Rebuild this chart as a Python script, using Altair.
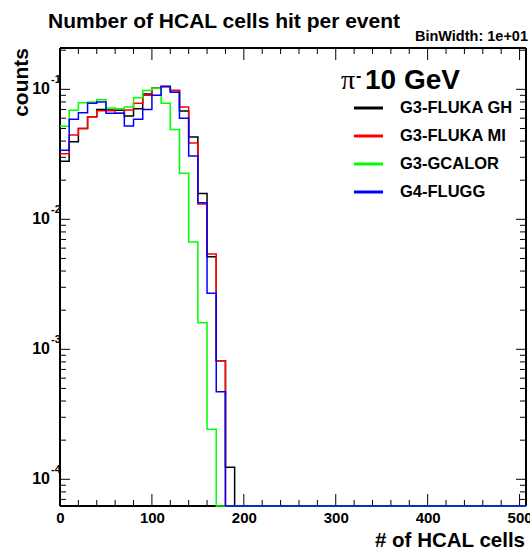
import altair as alt
import pandas as pd

# ---------------- data ----------------
BIN_WIDTH = 10
X_MAX = 507
Y_MIN = 6.23e-5
Y_MAX = 0.208

SERIES = ["G3-FLUKA GH", "G3-FLUKA MI", "G3-GCALOR", "G4-FLUGG"]
COLORS = ["#000000", "#ff0000", "#00ff00", "#0000ff"]

# bin contents for bins 0-10, 10-20, ... (counts, normalised)
G3_FLUKA_GH = [0.028, 0.0395, 0.050, 0.0616, 0.070, 0.0693, 0.069, 0.0623, 0.071, 0.092,
               0.102, 0.105, 0.098, 0.068, 0.043, 0.0158, 0.00515, 0.000817, 0.000124, 0]
G3_FLUKA_MI = [0.032, 0.0446, 0.050, 0.0616, 0.0685, 0.0685, 0.0654, 0.0693, 0.078, 0.090,
               0.102, 0.105, 0.098, 0.073, 0.0386, 0.0131, 0.0054, 0.000817, 0, 0]
G3_GCALOR = [0.052, 0.069, 0.079, 0.080, 0.083, 0.072, 0.071, 0.073, 0.086, 0.098,
             0.102, 0.078, 0.049, 0.0226, 0.0067, 0.0016, 0.000243, 0, 0, 0]
G4_FLUGG = [0.034, 0.0588, 0.066, 0.078, 0.080, 0.0654, 0.0654, 0.0523, 0.059, 0.070,
            0.090, 0.105, 0.095, 0.060, 0.0307, 0.0134, 0.0027, 0.000472, 0, 0]
VALUES = [G3_FLUKA_GH, G3_FLUKA_MI, G3_GCALOR, G4_FLUGG]

X_LABELS = [0, 100, 200, 300, 400, 500]
X_MINOR = [v for v in range(0, X_MAX + 1, 20) if v % 100 != 0]
Y_EXPONENTS = [-1, -2, -3, -4]
Y_MAJOR = [10.0 ** e for e in Y_EXPONENTS]
Y_MINOR = [m * 10.0 ** e for e in range(-5, 0) for m in range(2, 10)
           if Y_MIN <= m * 10.0 ** e <= Y_MAX]

TITLE = "Number of HCAL cells hit per event"
BIN_TEXT = "BinWidth: 1e+01"
X_TITLE = "# of HCAL cells"
Y_TITLE = "counts"

# ---------------- layout ----------------
W, H = 466, 458
FONT = "Liberation Sans"
xs = alt.Scale(domain=[0, X_MAX], nice=False, zero=False)
ys = alt.Scale(type="log", domain=[Y_MIN, Y_MAX], nice=False)

n_edges = X_MAX // BIN_WIDTH + 1
rows = []
for name, vals in zip(SERIES, VALUES):
    full = vals + [0] * (n_edges - len(vals))
    for k, v in enumerate(full):
        rows.append({"s": name, "x": k * BIN_WIDTH, "v": v, "i": k})
    rows.append({"s": name, "x": X_MAX, "v": full[-1], "i": n_edges})
df = pd.DataFrame(rows)

x_axis = alt.Axis(values=X_LABELS, labelFont=FONT, labelFontSize=15, labelFontWeight="bold",
                  labelColor="black", ticks=False, domain=False, grid=False, title=None,
                  labelPadding=4, labelFlush=False)

layers = []

# frame (drawn under the histograms, like ROOT)
layers.append(alt.Chart(pd.DataFrame({"x": [0, X_MAX]})).mark_rule(color="black", strokeWidth=2)
              .encode(x=alt.X("x:Q", scale=xs, axis=x_axis),
                      y=alt.Y(datum=Y_MIN, scale=ys, axis=None), y2=alt.Y2(datum=Y_MAX)))
layers.append(alt.Chart(pd.DataFrame({"v": [Y_MIN, Y_MAX]})).mark_rule(color="black", strokeWidth=2)
              .encode(y=alt.Y("v:Q", scale=ys, axis=None),
                      x=alt.X(datum=0, scale=xs), x2=alt.X2(datum=X_MAX)))

def xticks(vals, L):
    d = pd.DataFrame({"x": vals})
    bot = alt.Chart(d).mark_rule(color="black", strokeWidth=1).encode(
        x=alt.X("x:Q", scale=xs), y=alt.value(H), y2=alt.value(H - L))
    top = alt.Chart(d).mark_rule(color="black", strokeWidth=1).encode(
        x=alt.X("x:Q", scale=xs), y=alt.value(0), y2=alt.value(L))
    return [bot, top]

def yticks(vals, L):
    d = pd.DataFrame({"v": vals})
    lft = alt.Chart(d).mark_rule(color="black", strokeWidth=1).encode(
        y=alt.Y("v:Q", scale=ys), x=alt.value(0), x2=alt.value(L))
    rgt = alt.Chart(d).mark_rule(color="black", strokeWidth=1).encode(
        y=alt.Y("v:Q", scale=ys), x=alt.value(W - L), x2=alt.value(W))
    return [lft, rgt]

layers += xticks(X_LABELS, 12) + xticks(X_MINOR, 6)
layers += yticks(Y_MAJOR, 10) + yticks(Y_MINOR, 6)

for name, color in zip(SERIES, COLORS):
    layers.append(
        alt.Chart(df[df.s == name])
        .transform_calculate(yv=f"max(datum.v, {Y_MIN})")
        .mark_line(interpolate="step-after", color=color, strokeWidth=1.5)
        .encode(x=alt.X("x:Q", scale=xs),
                y=alt.Y("yv:Q", scale=ys),
                order=alt.Order("i:Q"))
    )

ylab = pd.DataFrame({"v": Y_MAJOR, "base": ["10"] * len(Y_MAJOR),
                     "exp": [str(e) for e in Y_EXPONENTS]})
layers.append(alt.Chart(ylab).mark_text(font=FONT, fontSize=16, fontWeight="bold",
                                        align="right", baseline="middle", color="black")
              .encode(y=alt.Y("v:Q", scale=ys), x=alt.value(-10), text="base:N"))
layers.append(alt.Chart(ylab).mark_text(font=FONT, fontSize=11, fontWeight="bold",
                                        align="left", baseline="middle", dy=-9, color="black")
              .encode(y=alt.Y("v:Q", scale=ys), x=alt.value(-9), text="exp:N"))

def label(text, x, y, size, weight="bold", align="left", baseline="alphabetic",
          angle=0, font=FONT, color="black"):
    d = pd.DataFrame({"t": [text]})
    return alt.Chart(d).mark_text(font=font, fontSize=size, fontWeight=weight, align=align,
                                  baseline=baseline, angle=angle, color=color).encode(
        x=alt.value(x), y=alt.value(y), text="t:N")

layers.append(label(TITLE, -12, -20, 21))
layers.append(label(BIN_TEXT, 468, -7, 14.5, align="right"))
layers.append(label(Y_TITLE, -38, 0, 21, align="right", baseline="middle", angle=270))
layers.append(label(X_TITLE, 465, 499, 20.5, align="right"))

# legend
layers.append(label("\u03c0", 281, 41, 28, weight="normal", font="Liberation Serif"))
layers.append(label("-", 296, 28, 16, weight="bold", baseline="middle"))
layers.append(label("10 GeV", 305, 41, 28))
LEG_Y = [60, 88, 116, 144]
for name, color, yy in zip(SERIES, COLORS, LEG_Y):
    layers.append(alt.Chart(pd.DataFrame({"s": [name]})).mark_rule(color=color, strokeWidth=3)
                  .encode(x=alt.value(294), x2=alt.value(323), y=alt.value(yy)))
    layers.append(label(name, 340, yy, 16.5, baseline="middle"))

chart = (
    alt.layer(*layers)
    .properties(width=W, height=H, autosize=alt.AutoSizeParams(type="none"),
                padding={"left": 60, "top": 48, "right": 4, "bottom": 47},
                background="white")
    .configure_view(stroke=None)
)

chart.save("out.html", embed_options={"renderer": "svg", "actions": False})
